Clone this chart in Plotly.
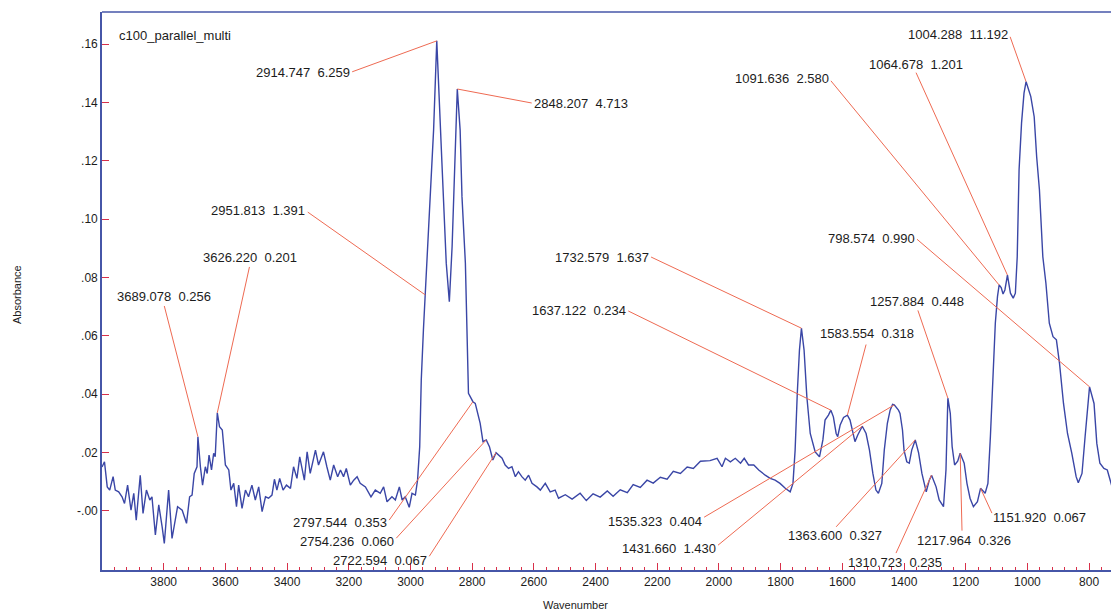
import plotly.graph_objects as go

# ---------------- data ----------------
wavenumber = [4000, 3992, 3983, 3975, 3964, 3957, 3946, 3935, 3927, 3917, 3906, 3897, 3889, 3876, 3867,
              3856, 3845, 3838, 3827, 3816, 3805, 3798, 3784, 3773, 3755, 3740, 3726, 3716, 3708, 3701,
              3692, 3689.078, 3681, 3674, 3665, 3659, 3653, 3645, 3638, 3633, 3626.22, 3619, 3610, 3600,
              3589, 3582, 3573, 3564, 3557, 3546, 3535, 3525, 3514, 3503, 3492, 3481, 3470, 3460, 3449,
              3441, 3433, 3424, 3413, 3402, 3389, 3379, 3368, 3359, 3344, 3335, 3325, 3308, 3298, 3282,
              3271, 3260, 3249, 3236, 3227, 3217, 3208, 3195, 3184, 3173, 3163, 3146, 3128, 3114, 3098,
              3087, 3076, 3060, 3049, 3036, 3027, 3017, 3004, 2995, 2984, 2977, 2970, 2965, 2958,
              2951.813, 2925, 2914.747, 2906, 2898, 2884, 2874, 2865, 2855, 2848.207, 2839, 2833, 2822,
              2817, 2812, 2797.544, 2790, 2774, 2765, 2754.236, 2744, 2733, 2722.594, 2703, 2693, 2682,
              2671, 2660, 2650, 2639, 2628, 2617, 2606, 2590, 2579, 2563, 2547, 2531, 2520, 2498, 2476,
              2450, 2430, 2408, 2385, 2362, 2343, 2320, 2297, 2278, 2255, 2233, 2213, 2190, 2168, 2148,
              2125, 2103, 2083, 2060, 2029, 2006, 1990, 1979, 1963, 1947, 1930, 1918, 1904, 1887, 1871,
              1850, 1834, 1818, 1802, 1785, 1769, 1760, 1753, 1746, 1739, 1732.579, 1724, 1715, 1704,
              1688, 1674, 1663, 1656, 1645, 1637.122, 1629, 1620, 1615, 1607, 1596, 1583.554, 1575, 1566,
              1559, 1550, 1540, 1535.323, 1523, 1512, 1501, 1491, 1483, 1472, 1464, 1454, 1445, 1437,
              1431.66, 1418, 1413, 1405, 1400, 1391, 1383, 1375, 1363.6, 1353, 1342, 1328, 1318,
              1310.723, 1296, 1286, 1272, 1264, 1257.884, 1250, 1244, 1236, 1226, 1217.964, 1205, 1196,
              1186, 1175, 1162, 1151.92, 1137, 1128, 1120, 1112, 1104, 1097, 1091.636, 1085, 1079, 1073,
              1064.678, 1055, 1046, 1039, 1033, 1027, 1019, 1011, 1004.288, 989, 978, 970, 961, 950, 940,
              929, 917, 906, 896, 883, 870, 856, 842, 835, 823, 813, 804, 798.574, 784, 775, 765, 752,
              741, 733, 725]

absorbance = [0.0150, 0.0168, 0.0082, 0.0071, 0.0117, 0.0071, 0.0065, 0.0048, 0.0025, 0.0088, 0.0002,
              0.0060, -0.0032, 0.0122, -0.0009, 0.0071, 0.0037, 0.0048, -0.0083, 0.0020, -0.0055, -0.0112,
              0.0071, -0.0095, 0.0014, 0.0002, -0.0043, 0.0048, 0.0054, 0.0128, 0.0151, 0.0254, 0.0151,
              0.0088, 0.0151, 0.0128, 0.0191, 0.0140, 0.0197, 0.0185, 0.0336, 0.0288, 0.0277, 0.0157,
              0.0140, 0.0071, 0.0094, 0.0014, 0.0088, 0.0008, 0.0071, 0.0048, 0.0088, 0.0037, 0.0082,
              -0.0003, 0.0048, 0.0043, 0.0054, 0.0108, 0.0071, 0.0111, 0.0071, 0.0088, 0.0077, 0.0151,
              0.0111, 0.0185, 0.0105, 0.0202, 0.0128, 0.0208, 0.0157, 0.0202, 0.0151, 0.0105, 0.0157,
              0.0117, 0.0140, 0.0117, 0.0145, 0.0088, 0.0105, 0.0117, 0.0094, 0.0082, 0.0048, 0.0071,
              0.0060, 0.0082, 0.0031, 0.0048, 0.0037, 0.0082, 0.0037, 0.0048, 0.0012, 0.0060, 0.0054,
              0.0105, 0.0220, 0.0448, 0.0620, 0.0740, 0.1306, 0.1611, 0.1420, 0.1192, 0.0849, 0.0717,
              0.0906, 0.1192, 0.1446, 0.1306, 0.1077, 0.0849, 0.0620, 0.0403, 0.0374, 0.0368, 0.0300,
              0.0237, 0.0243, 0.0220, 0.0174, 0.0199, 0.0180, 0.0157, 0.0145, 0.0151, 0.0117, 0.0134,
              0.0117, 0.0105, 0.0122, 0.0094, 0.0082, 0.0071, 0.0094, 0.0065, 0.0071, 0.0043, 0.0055,
              0.0040, 0.0060, 0.0035, 0.0058, 0.0047, 0.0068, 0.0050, 0.0072, 0.0062, 0.0090, 0.0080,
              0.0105, 0.0095, 0.0115, 0.0108, 0.0135, 0.0128, 0.0150, 0.0145, 0.0170, 0.0172, 0.0180,
              0.0151, 0.0180, 0.0168, 0.0180, 0.0163, 0.0180, 0.0157, 0.0157, 0.0140, 0.0122, 0.0111,
              0.0105, 0.0094, 0.0077, 0.0065, 0.0094, 0.0208, 0.0403, 0.0551, 0.0626, 0.0551, 0.0391,
              0.0265, 0.0202, 0.0185, 0.0243, 0.0311, 0.0328, 0.0345, 0.0322, 0.0265, 0.0254, 0.0294,
              0.0320, 0.0328, 0.0311, 0.0265, 0.0237, 0.0260, 0.0283, 0.0290, 0.0265, 0.0208, 0.0128,
              0.0071, 0.0060, 0.0094, 0.0208, 0.0300, 0.0345, 0.0365, 0.0363, 0.0345, 0.0334, 0.0277,
              0.0208, 0.0168, 0.0163, 0.0208, 0.0243, 0.0200, 0.0128, 0.0065, 0.0105, 0.0122, 0.0082,
              0.0037, 0.0014, 0.0140, 0.0386, 0.0334, 0.0220, 0.0157, 0.0170, 0.0197, 0.0163, 0.0094,
              0.0043, 0.0014, 0.0031, 0.0077, 0.0060, 0.0094, 0.0254, 0.0483, 0.0643, 0.0734, 0.0774,
              0.0765, 0.0743, 0.0757, 0.0808, 0.0746, 0.0729, 0.0746, 0.0871, 0.1169, 0.1329, 0.1432,
              0.1471, 0.1420, 0.1351, 0.1214, 0.1100, 0.0871, 0.0780, 0.0643, 0.0597, 0.0586, 0.0506,
              0.0368, 0.0265, 0.0197, 0.0117, 0.0096, 0.0128, 0.0254, 0.0350, 0.0425, 0.0368, 0.0231,
              0.0163, 0.0145, 0.0140, 0.0105, 0.0080]

peak_wn = [3689.078, 3626.220, 2951.813, 2914.747, 2848.207, 2797.544, 2754.236, 2722.594,
           1732.579, 1637.122, 1583.554, 1535.323, 1431.660, 1363.600, 1310.723, 1257.884,
           1217.964, 1151.920, 1091.636, 1064.678, 1004.288, 798.574]
peak_val = [0.256, 0.201, 1.391, 6.259, 4.713, 0.353, 0.060, 0.067,
            1.637, 0.234, 0.318, 0.404, 1.430, 0.327, 0.235, 0.448,
            0.326, 0.067, 2.580, 1.201, 11.192, 0.990]

x_ticks = [3800, 3600, 3400, 3200, 3000, 2800, 2600, 2400, 2200, 2000, 1800, 1600, 1400, 1200, 1000, 800]
y_ticks = [0.0, 0.02, 0.04, 0.06, 0.08, 0.10, 0.12, 0.14, 0.16]
y_tick_text = ["-.00", ".02", ".04", ".06", ".08", ".10", ".12", ".14", ".16"]
sample_name = "c100_parallel_multi"

# ---------------- label placement (layout, in axis units) ----------------
# text x, text y, xanchor, leader start x, leader start y, leader target wavenumber
label_place = {
    3689.078: (3798, 0.0733, "center", 3798, 0.0702, 3689.078),
    3626.220: (3521, 0.0867, "center", 3522, 0.0836, 3626.220),
    2951.813: (3338, 0.1028, "right", 3333, 0.1024, 2951.813),
    2914.747: (3192, 0.1501, "right", 3189, 0.1505, 2914.747),
    2848.207: (2602, 0.1395, "left", 2607, 0.1398, 2848.207),
    2797.544: (3072, -0.0039, "right", 3069, -0.0032, 2797.544),
    2754.236: (3049, -0.0104, "right", 3046, -0.0094, 2754.236),
    2722.594: (2942, -0.0169, "right", 2939, -0.0156, 2722.594),
    1732.579: (2223, 0.0870, "right", 2220, 0.0870, 1732.579),
    1637.122: (2297, 0.0685, "right", 2294, 0.0685, 1637.122),
    1583.554: (1675, 0.0609, "left", 1523, 0.0570, 1583.554),
    1535.323: (2051, -0.0035, "right", 2048, -0.0022, 1431.660),
    1431.660: (2006, -0.0128, "right", 2003, -0.0118, 1535.323),
    1363.600: (1623, -0.0083, "center", 1620, -0.0055, 1363.600),
    1310.723: (1429, -0.0176, "center", 1426, -0.0145, 1310.723),
    1257.884: (1358, 0.0716, "center", 1355, 0.0687, 1257.884),
    1217.964: (1205, -0.0101, "center", 1212, -0.0068, 1217.964),
    1151.920: (1115, -0.0022, "left", 1115, -0.0008, 1151.920),
    1091.636: (1640, 0.1481, "right", 1637, 0.1474, 1091.636),
    1064.678: (1361, 0.1529, "center", 1361, 0.1502, 1064.678),
    1004.288: (1060, 0.1632, "right", 1056, 0.1625, 1004.288),
    798.574: (1361, 0.0935, "right", 1358, 0.0931, 798.574),
}

AXIS_BLUE = "#4656a8"
LINE_BLUE = "#3a46a6"
LEADER = "#ee6a52"
TICK_RED = "#d8304a"
TEXT = "#1c1c1c"
FONT = "Liberation Sans, Arial, sans-serif"

fig = go.Figure()
fig.add_trace(go.Scatter(x=wavenumber, y=absorbance, mode="lines",
                         line=dict(color=LINE_BLUE, width=1.4), hoverinfo="skip"))

lookup = dict(zip(wavenumber, absorbance))
for wn, val in zip(peak_wn, peak_val):
    tx, ty, anchor, lx, ly, target = label_place[wn]
    fig.add_shape(type="line", xref="x", yref="y", x0=lx, y0=ly, x1=target, y1=lookup[target],
                  line=dict(color=LEADER, width=1))
    fig.add_annotation(x=tx, y=ty, xref="x", yref="y", text=f"{wn:.3f}  {val:.3f}",
                       showarrow=False, xanchor=anchor, yanchor="middle",
                       font=dict(family=FONT, size=13, color=TEXT), borderpad=0)

fig.add_annotation(x=0.015, y=0.958, xref="paper", yref="paper", text=sample_name,
                   showarrow=False, xanchor="left", yanchor="middle",
                   font=dict(family=FONT, size=13, color=TEXT))

# axis titles
fig.add_annotation(x=-0.092, y=0.493, xref="paper", yref="paper", text="Absorbance",
                   showarrow=False, textangle=-90, font=dict(family=FONT, size=11, color=TEXT))
fig.add_annotation(x=0.469, y=-0.063, xref="paper", yref="paper", text="Wavenumber",
                   showarrow=False, yanchor="middle", font=dict(family=FONT, size=11, color=TEXT))

# top frame line
fig.add_shape(type="line", xref="paper", yref="paper", x0=0, y0=1, x1=1, y1=1,
              line=dict(color=AXIS_BLUE, width=1.6))

minor_vals = [v for v in range(3960, 720, -40) if v % 200 != 0]

fig.update_layout(
    width=1111, height=614,
    margin=dict(l=102, r=0, t=12, b=44),
    paper_bgcolor="white", plot_bgcolor="white",
    showlegend=False,
    font=dict(family=FONT, color=TEXT),
    xaxis=dict(range=[4000, 729], tickvals=x_ticks, ticks="inside", ticklen=7, tickwidth=1.3,
               tickcolor=TICK_RED, showgrid=False, zeroline=False, showline=True,
               linecolor=AXIS_BLUE, linewidth=1.6,
               tickfont=dict(family=FONT, size=12, color=TEXT),
               minor=dict(tickvals=minor_vals, ticks="inside", ticklen=3, tickcolor=TICK_RED,
                          tickwidth=1, showgrid=False)),
    yaxis=dict(range=[-0.0203, 0.171], tickvals=y_ticks, ticktext=y_tick_text, ticks="inside",
               ticklen=7, tickwidth=1.3, tickcolor=TICK_RED, showgrid=False, zeroline=False,
               showline=True, linecolor=AXIS_BLUE, linewidth=1.6,
               tickfont=dict(family=FONT, size=12, color=TEXT)),
)

fig.write_html("out.html")
